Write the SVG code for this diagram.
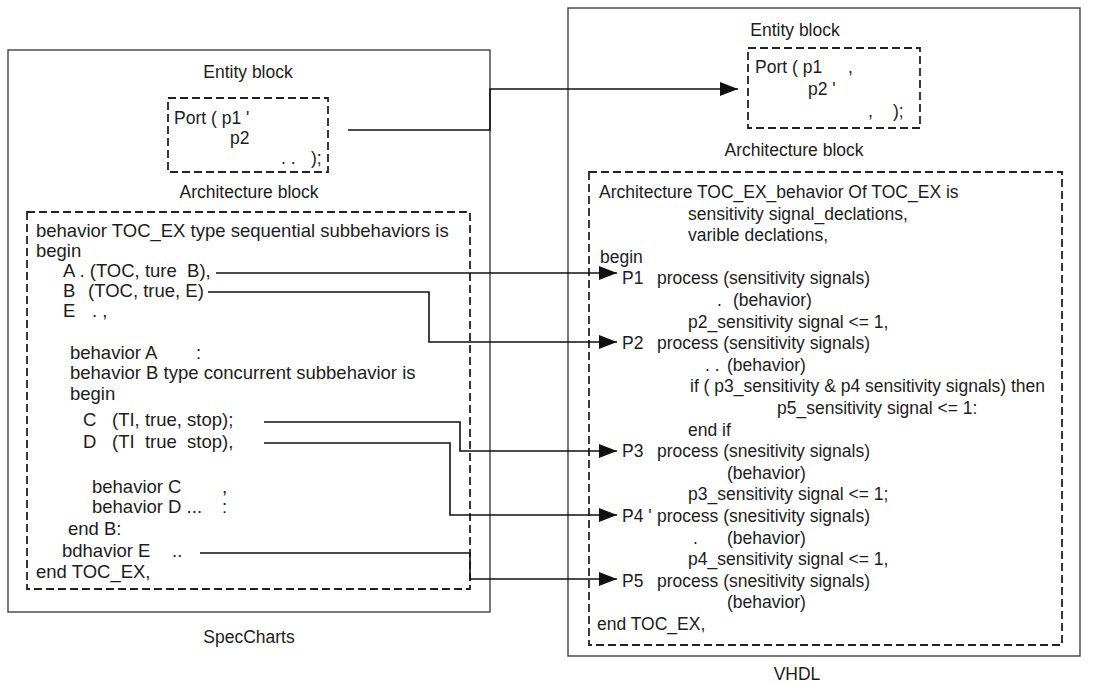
<svg xmlns="http://www.w3.org/2000/svg" width="1115" height="683" viewBox="0 0 1115 683">
<style>
text{font-family:"Liberation Sans",Arial,sans-serif;fill:#1c1c1c;white-space:pre}
.l{font-size:18.5px}
.r{font-size:17.5px}
.c{text-anchor:middle}
.frame{fill:none;stroke:#333;stroke-width:1.3}
.dash{fill:none;stroke:#222;stroke-width:1.8;stroke-dasharray:8 4}
.conn{fill:none;stroke:#111;stroke-width:1.6}
</style>
<defs>
<marker id="ah" markerWidth="18" markerHeight="14" refX="18" refY="7" orient="auto" markerUnits="userSpaceOnUse"><path d="M0,0 L18,7 L0,14 z" fill="#111"/></marker>
</defs>

<g id="specCharts">
<rect class="frame" x="8" y="50" width="482" height="562"/>
<text class="r c" x="249" y="643">SpecCharts</text>
</g>

<g id="left-entity">
<text class="r c" x="248" y="78">Entity block</text>
<rect class="dash" x="168" y="98" width="160" height="74"/>
<text class="r" x="174" y="124">Port ( p1 '</text>
<text class="r" x="230" y="144">p2</text>
<text class="r" x="281" y="164">. .</text>
<text class="r" x="311" y="164">);</text>
</g>

<g id="left-arch">
<text class="r c" x="249" y="198">Architecture block</text>
<rect class="dash" x="27" y="212" width="443" height="377"/>
<text class="l" x="36" y="237">behavior TOC_EX type sequential subbehaviors is</text>
<text class="l" x="36" y="257">begin</text>
<text class="l" x="63" y="277">A . (TOC, ture  B),</text>
<text class="l" x="63" y="297">B</text><text class="l" x="88" y="297">(TOC, true, E)</text>
<text class="l" x="63" y="317">E</text><text class="l" x="92" y="317">. ,</text>
<text class="l" x="70" y="359">behavior A</text><text class="l" x="196" y="359">:</text>
<text class="l" x="70" y="379">behavior B type concurrent subbehavior is</text>
<text class="l" x="70" y="400">begin</text>
<text class="l" x="83" y="426">C</text><text class="l" x="112" y="426">(TI, true, stop);</text>
<text class="l" x="83" y="448">D</text><text class="l" x="112" y="448">(TI  true  stop),</text>
<text class="l" x="92" y="493">behavior C</text><text class="l" x="222" y="493">,</text>
<text class="l" x="92" y="513">behavior D ...</text><text class="l" x="222" y="513">:</text>
<text class="l" x="68" y="535">end B:</text>
<text class="l" x="62" y="557">bdhavior E</text><text class="l" x="172" y="557">..</text>
<text class="l" x="36" y="578">end TOC_EX,</text>
</g>

<g id="vhdl">
<rect class="frame" x="568" y="8" width="512" height="648"/>
<text class="r c" x="797" y="680">VHDL</text>
</g>

<g id="right-entity">
<text class="r c" x="795" y="36">Entity block</text>
<rect class="dash" x="748" y="48" width="172" height="80"/>
<text class="r" x="755" y="73">Port ( p1</text><text class="r" x="848" y="73">,</text>
<text class="r" x="808" y="95">p2 '</text>
<text class="r" x="868" y="117">,</text><text class="r" x="893" y="117">);</text>
</g>

<g id="right-arch">
<text class="r c" x="794" y="156">Architecture block</text>
<rect class="dash" x="589" y="172" width="473" height="473"/>
<text class="r" x="599" y="198">Architecture TOC_EX_behavior Of TOC_EX is</text>
<text class="r" x="688" y="219.6">sensitivity signal_declations,</text>
<text class="r" x="688" y="241.2">varible declations,</text>
<text class="r" x="600" y="262.8">begin</text>
<text class="r" x="622" y="284.4">P1</text><text class="r" x="657" y="284.4">process (sensitivity signals)</text>
<text class="r" x="717" y="306">.</text><text class="r" x="733" y="306">(behavior)</text>
<text class="r" x="688" y="327.6">p2_sensitivity signal &lt;= 1,</text>
<text class="r" x="622" y="349.2">P2</text><text class="r" x="657" y="349.2">process (sensitivity signals)</text>
<text class="r" x="705" y="370.8">. .</text><text class="r" x="727" y="370.8">(behavior)</text>
<text class="r" x="690" y="392.4">if ( p3_sensitivity &amp; p4 sensitivity signals) then</text>
<text class="r" x="777" y="414">p5_sensitivity signal &lt;= 1:</text>
<text class="r" x="688" y="435.6">end if</text>
<text class="r" x="622" y="457.2">P3</text><text class="r" x="657" y="457.2">process (snesitivity signals)</text>
<text class="r" x="727" y="478.8">(behavior)</text>
<text class="r" x="688" y="500.4">p3_sensitivity signal &lt;= 1;</text>
<text class="r" x="622" y="522">P4 '</text><text class="r" x="657" y="522">process (snesitivity signals)</text>
<text class="r" x="693" y="543.6">.</text><text class="r" x="727" y="543.6">(behavior)</text>
<text class="r" x="688" y="565.2">p4_sensitivity signal &lt;= 1,</text>
<text class="r" x="622" y="586.8">P5</text><text class="r" x="657" y="586.8">process (snesitivity signals)</text>
<text class="r" x="727" y="608.4">(behavior)</text>
<text class="r" x="597" y="630">end TOC_EX,</text>
</g>

<g id="connectors">
<path class="conn" d="M348,130 H490 V89 H738" marker-end="url(#ah)"/>
<path class="conn" d="M216,273 H617" marker-end="url(#ah)"/>
<path class="conn" d="M208,292 H429 V342 H617" marker-end="url(#ah)"/>
<path class="conn" d="M264,422 H460 V451 H617" marker-end="url(#ah)"/>
<path class="conn" d="M264,443 H450 V515 H617" marker-end="url(#ah)"/>
<path class="conn" d="M200,553 H470 V579 H617" marker-end="url(#ah)"/>
</g>
</svg>
